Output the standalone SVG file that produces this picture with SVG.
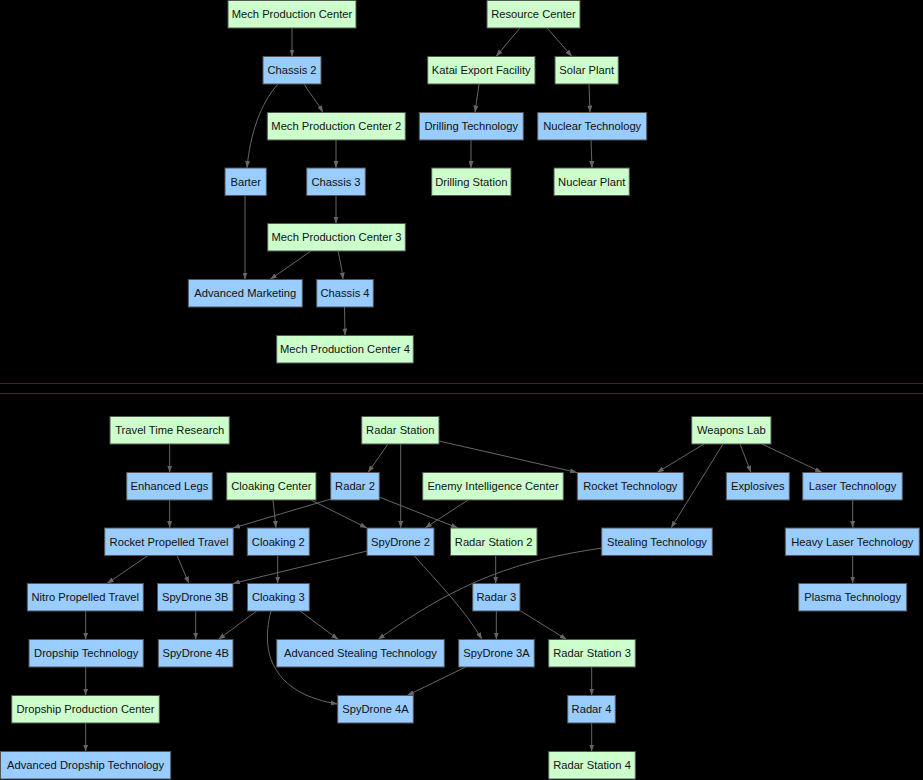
<svg xmlns="http://www.w3.org/2000/svg" width="923" height="780" viewBox="0 0 923 780">
<style>
.g{fill:#ccffcc;stroke:#555;stroke-width:1}
.b{fill:#99ccff;stroke:#555;stroke-width:1}
text{font-family:"Liberation Sans",Arial,sans-serif;font-size:11.2px;fill:#111;text-anchor:middle}
#edges path{fill:none;stroke:#666;stroke-width:1;marker-end:url(#arr)}
</style>
<defs>
<marker id="arr" markerUnits="userSpaceOnUse" viewBox="0 0 7 5" refX="7" refY="2.5" markerWidth="7" markerHeight="5" orient="auto">
<path d="M0,0 L7,2.5 L0,5 z" fill="#666"/>
</marker>
</defs>
<rect x="0" y="0" width="923" height="780" fill="#000"/>
<g id="separator">
<rect x="0" y="383" width="923" height="1" fill="#990000"/>
<rect x="0" y="393" width="923" height="1" fill="#990000"/>
</g>
<g id="edges">
<path d="M292,28 L292,56.5"/>
<path d="M304,84 C310,94 318,103 323,112.5"/>
<path d="M278,84 C260,104 250,135 247,168"/>
<path d="M336,140 L336,168"/>
<path d="M336,195.5 L336,223.5"/>
<path d="M245,195.5 L245,279.5"/>
<path d="M311,251 L270,279.5"/>
<path d="M338,251 C340,260 342,270 343,279.5"/>
<path d="M344.5,307 L345,335.5"/>
<path d="M520,28 L496,56.5"/>
<path d="M547,28 L572,56.5"/>
<path d="M479,84 L475,112.5"/>
<path d="M589,84 L590,112.5"/>
<path d="M471,140 L471,168"/>
<path d="M591,140 L592,168"/>
<path d="M169.7,444 L169.7,472.5"/>
<path d="M169.7,500 L169.7,528"/>
<path d="M148,555.5 L107,583.5"/>
<path d="M177,555.5 L189,583.5"/>
<path d="M331,499 L233,528"/>
<path d="M273,500 L276,528"/>
<path d="M311,500 L367,528"/>
<path d="M379,497 L458,528"/>
<path d="M388,444 L368,472.5"/>
<path d="M400.7,444 L400.7,528"/>
<path d="M439,441 L577,472.5"/>
<path d="M468,500 L425,528"/>
<path d="M704,444 L657,472.5"/>
<path d="M723,444 L671,528"/>
<path d="M740,444 L751,472.5"/>
<path d="M762,444 L822,472.5"/>
<path d="M852.7,500 L852.7,528"/>
<path d="M852.7,555.5 L852.7,583.5"/>
<path d="M277.7,555.5 L277.7,583.5"/>
<path d="M367,551 L233,583.5"/>
<path d="M414,555.5 C440,585 465,610 482,639.5"/>
<path d="M495.7,555.5 L495.7,583.5"/>
<path d="M496.3,611 L496.3,639.5"/>
<path d="M520.7,611 L566.7,639.5"/>
<path d="M602,548 C520,560 460,580 378,639.5"/>
<path d="M256.7,611 L218.3,639.5"/>
<path d="M195.7,611 L195.7,639.5"/>
<path d="M300,611 L338.3,639.5"/>
<path d="M271,611 C258,660 280,695 337.7,704"/>
<path d="M465.7,667 L407,695.5"/>
<path d="M591.7,667 L591.7,695.5"/>
<path d="M591.7,723 L591.7,751.5"/>
<path d="M85.7,611 L85.7,639.5"/>
<path d="M85.7,667 L85.7,695.5"/>
<path d="M85.7,723 L85.7,751.5"/>
</g>
<g id="n-mpc"><rect class="g" x="228" y="0.5" width="128" height="27.5"/><text x="292" y="18">Mech Production Center</text></g>
<g id="n-rc"><rect class="g" x="487" y="0.5" width="93" height="27.5"/><text x="533.5" y="18">Resource Center</text></g>
<g id="n-ch2"><rect class="b" x="263" y="56.5" width="58" height="27.5"/><text x="292" y="74">Chassis 2</text></g>
<g id="n-katai"><rect class="g" x="427.7" y="56.5" width="107.3" height="27.5"/><text x="481.3" y="74">Katai Export Facility</text></g>
<g id="n-solar"><rect class="g" x="555" y="56.5" width="63.3" height="27.5"/><text x="586.7" y="74">Solar Plant</text></g>
<g id="n-mpc2"><rect class="g" x="267.3" y="112.5" width="138" height="27.5"/><text x="336.3" y="130">Mech Production Center 2</text></g>
<g id="n-drilltech"><rect class="b" x="419.3" y="112.5" width="104" height="27.5"/><text x="471.3" y="130">Drilling Technology</text></g>
<g id="n-nuctech"><rect class="b" x="537.7" y="112.5" width="109" height="27.5"/><text x="592.2" y="130">Nuclear Technology</text></g>
<g id="n-barter"><rect class="b" x="225" y="168" width="41.3" height="27.5"/><text x="245.7" y="185.5">Barter</text></g>
<g id="n-ch3"><rect class="b" x="306.7" y="168" width="58.6" height="27.5"/><text x="336" y="185.5">Chassis 3</text></g>
<g id="n-drillst"><rect class="g" x="431.7" y="168" width="79.3" height="27.5"/><text x="471.3" y="185.5">Drilling Station</text></g>
<g id="n-nucplant"><rect class="g" x="554" y="168" width="75.3" height="27.5"/><text x="591.7" y="185.5">Nuclear Plant</text></g>
<g id="n-mpc3"><rect class="g" x="267.7" y="223.5" width="137.6" height="27.5"/><text x="336.5" y="241">Mech Production Center 3</text></g>
<g id="n-advmkt"><rect class="b" x="188.3" y="279.5" width="114" height="27.5"/><text x="245.3" y="297">Advanced Marketing</text></g>
<g id="n-ch4"><rect class="b" x="316.7" y="279.5" width="56.6" height="27.5"/><text x="345" y="297">Chassis 4</text></g>
<g id="n-mpc4"><rect class="g" x="276.7" y="335.5" width="136.6" height="27.5"/><text x="345" y="353">Mech Production Center 4</text></g>
<g id="n-ttr"><rect class="g" x="110" y="416.5" width="119.3" height="27.5"/><text x="169.7" y="434">Travel Time Research</text></g>
<g id="n-rs"><rect class="g" x="361.7" y="416.5" width="77.3" height="27.5"/><text x="400.3" y="434">Radar Station</text></g>
<g id="n-wl"><rect class="g" x="691.7" y="416.5" width="79.3" height="27.5"/><text x="731.3" y="434">Weapons Lab</text></g>
<g id="n-el"><rect class="b" x="126.7" y="472.5" width="85.6" height="27.5"/><text x="169.5" y="490">Enhanced Legs</text></g>
<g id="n-cc"><rect class="g" x="226.7" y="472.5" width="89.3" height="27.5"/><text x="271.3" y="490">Cloaking Center</text></g>
<g id="n-r2"><rect class="b" x="330.7" y="472.5" width="48.6" height="27.5"/><text x="355" y="490">Radar 2</text></g>
<g id="n-eic"><rect class="g" x="422.7" y="472.5" width="140.6" height="27.5"/><text x="493" y="490">Enemy Intelligence Center</text></g>
<g id="n-rt"><rect class="b" x="577.3" y="472.5" width="106" height="27.5"/><text x="630.3" y="490">Rocket Technology</text></g>
<g id="n-exp"><rect class="b" x="726.3" y="472.5" width="63" height="27.5"/><text x="757.8" y="490">Explosives</text></g>
<g id="n-lt"><rect class="b" x="802.7" y="472.5" width="99.6" height="27.5"/><text x="852.5" y="490">Laser Technology</text></g>
<g id="n-rpt"><rect class="b" x="104.7" y="528" width="128.6" height="27.5"/><text x="169" y="545.5">Rocket Propelled Travel</text></g>
<g id="n-cl2"><rect class="b" x="247.3" y="528" width="62" height="27.5"/><text x="278.3" y="545.5">Cloaking 2</text></g>
<g id="n-sd2"><rect class="b" x="367" y="528" width="67" height="27.5"/><text x="400.5" y="545.5">SpyDrone 2</text></g>
<g id="n-rs2"><rect class="g" x="450.5" y="528" width="86.5" height="27.5"/><text x="493.7" y="545.5">Radar Station 2</text></g>
<g id="n-st"><rect class="b" x="601.7" y="528" width="110.6" height="27.5"/><text x="657" y="545.5">Stealing Technology</text></g>
<g id="n-hlt"><rect class="b" x="785.3" y="528" width="134" height="27.5"/><text x="852.3" y="545.5">Heavy Laser Technology</text></g>
<g id="n-npt"><rect class="b" x="27.3" y="583.5" width="116" height="27.5"/><text x="85.3" y="601">Nitro Propelled Travel</text></g>
<g id="n-sd3b"><rect class="b" x="157.5" y="583.5" width="75.5" height="27.5"/><text x="195.2" y="601">SpyDrone 3B</text></g>
<g id="n-cl3"><rect class="b" x="247.5" y="583.5" width="61.8" height="27.5"/><text x="278.4" y="601">Cloaking 3</text></g>
<g id="n-r3"><rect class="b" x="472.7" y="583.5" width="47.3" height="27.5"/><text x="496.3" y="601">Radar 3</text></g>
<g id="n-pt"><rect class="b" x="798.7" y="583.5" width="108" height="27.5"/><text x="852.7" y="601">Plasma Technology</text></g>
<g id="n-dt"><rect class="b" x="29" y="639.5" width="114.3" height="27.5"/><text x="86.2" y="657">Dropship Technology</text></g>
<g id="n-sd4b"><rect class="b" x="158.3" y="639.5" width="74.7" height="27.5"/><text x="195.7" y="657">SpyDrone 4B</text></g>
<g id="n-ast"><rect class="b" x="276.7" y="639.5" width="167.6" height="27.5"/><text x="360.5" y="657">Advanced Stealing Technology</text></g>
<g id="n-sd3a"><rect class="b" x="458.7" y="639.5" width="75.6" height="27.5"/><text x="496.5" y="657">SpyDrone 3A</text></g>
<g id="n-rs3"><rect class="g" x="548.7" y="639.5" width="86.6" height="27.5"/><text x="592" y="657">Radar Station 3</text></g>
<g id="n-dpc"><rect class="g" x="11.7" y="695.5" width="147.6" height="27.5"/><text x="85.5" y="713">Dropship Production Center</text></g>
<g id="n-sd4a"><rect class="b" x="337.7" y="695.5" width="75.6" height="27.5"/><text x="375.5" y="713">SpyDrone 4A</text></g>
<g id="n-r4"><rect class="b" x="567.7" y="695.5" width="47.6" height="27.5"/><text x="591.5" y="713">Radar 4</text></g>
<g id="n-adt"><rect class="b" x="0.5" y="751.5" width="170.2" height="27.5"/><text x="85.6" y="769">Advanced Dropship Technology</text></g>
<g id="n-rs4"><rect class="g" x="548.7" y="751.5" width="86.6" height="27.5"/><text x="592" y="769">Radar Station 4</text></g>
</svg>
